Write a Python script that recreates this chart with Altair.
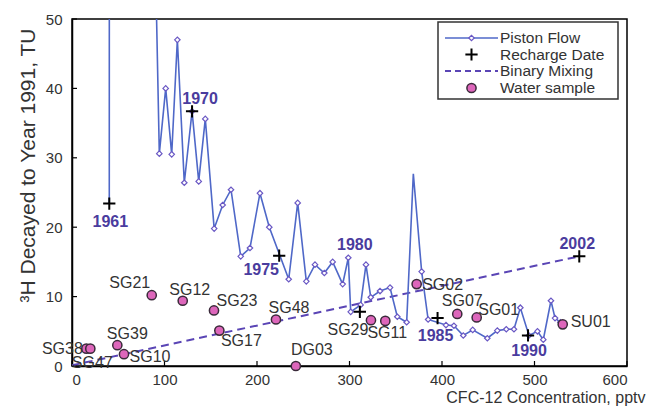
import altair as alt
import pandas as pd

FONT = "Liberation Sans"

# ---------------- data ----------------
piston_x = [40.3, 41, 89, 94.4, 101.3, 107.8, 113.9, 121.4, 129.8, 137.0, 144.1, 153.7,
            162.9, 171.9, 182.4, 192.4, 203.2, 213.3, 234.3, 244.0, 253.3, 262.7, 272.8,
            281.8, 292.6, 298.7, 301.3, 312.0, 317.8, 323.0, 333.0, 343.8, 351.7, 361.8,
            369.0, 378.0, 385.0, 404.3, 412.9, 423.0, 433.2, 449.0, 459.8, 469.5, 477.8,
            484.7, 494.0, 503.2, 509.5, 517.8, 522.2, 528.0]
piston_y = [23.4, 400, 66, 30.6, 40.0, 30.5, 47.0, 26.4, 36.7, 26.6, 35.6, 19.8,
            23.2, 25.4, 15.8, 17.0, 24.9, 20.0, 12.5, 23.5, 12.2, 14.6, 13.4,
            15.0, 11.8, 15.6, 7.8, 8.8, 14.6, 9.9, 10.8, 11.3, 7.1, 6.3,
            27.7, 13.6, 6.7, 5.9, 5.8, 4.4, 5.2, 4.0, 5.1, 5.3, 5.3,
            8.4, 4.4, 5.0, 3.8, 9.4, 6.9, 6.3]

recharge_years = ["1961", "1970", "1975", "1980", "1985", "1990", "2002"]
recharge_x = [40.3, 129.8, 224.0, 311.2, 395.2, 493.0, 548.4]
recharge_y = [23.4, 36.7, 15.9, 7.8, 6.9, 4.4, 15.8]

mixing_x = [0.0, 548.4]
mixing_y = [0.1, 15.8]

sample_names = ["SG38", "SG47", "SG39", "SG10", "SG21", "SG12", "SG23", "SG17",
                "SG48", "DG03", "SG29", "SG11", "SG02", "SG07", "SG01", "SU01"]
sample_x = [15.5, 19.8, 49.0, 56.2, 86.2, 119.7, 153.5, 159.3,
            220.5, 242.0, 323.2, 338.7, 372.6, 416.5, 437.5, 530.5]
sample_y = [2.5, 2.5, 3.0, 1.7, 10.2, 9.4, 8.0, 5.1,
            6.7, 0.0, 6.6, 6.5, 11.8, 7.5, 7.0, 6.0]

x_ticks = [0, 100, 200, 300, 400, 500, 600]
y_ticks = [0, 10, 20, 30, 40, 50]

# label placement (pixel offsets from the marker)
sample_label_offset = {
    "SG38": (-24, 0), "SG47": (2, 14), "SG39": (10, -11), "SG10": (26, 3),
    "SG21": (-22, -12), "SG12": (7, -11), "SG23": (23, -9), "SG17": (22, 10),
    "SG48": (13, -12), "DG03": (16, -16), "SG29": (-23, 10), "SG11": (2, 12),
    "SG02": (26, 1), "SG07": (5, -13), "SG01": (22, -7), "SU01": (28, -2),
}
year_label_offset = {
    "1961": (1, 18), "1970": (8, -12), "1975": (-18, 14), "1980": (-5, -67),
    "1985": (-2, 18), "1990": (1, 16), "2002": (-2, -12),
}

# ---------------- styles ----------------
BLUE = "#4f68c8"
DIAMOND = "#6a58c4"
PURPLE = "#4a3c9e"
DASH = "#5a45b5"
PINK = "#dd66bb"
TXT = "#333333"

piston = pd.DataFrame({"x": piston_x, "y": piston_y})
recharge = pd.DataFrame({"x": recharge_x, "y": recharge_y, "year": recharge_years})
mixing = pd.DataFrame({"x": mixing_x, "y": mixing_y})
samples = pd.DataFrame({"x": sample_x, "y": sample_y, "name": sample_names})
xt = pd.DataFrame({"x": x_ticks})
yt = pd.DataFrame({"y": y_ticks})
dummy = pd.DataFrame({"a": [0]})

W, H = 555, 347

xs = alt.Scale(domain=[0, 600], nice=False, zero=False)
ys = alt.Scale(domain=[0, 50], nice=False, zero=False)

x_axis = alt.Axis(values=x_ticks, title="CFC-12 Concentration, pptv", tickSize=0,
                  labelPadding=6, labelFontSize=15, labelColor=TXT, labelFont=FONT,
                  titleFont=FONT, titleFontSize=16, titleFontWeight="normal",
                  titleColor=TXT, titleAlign="right", titleAnchor="end",
                  titleX=573, titleY=36, titleBaseline="alphabetic",
                  domainColor="black", domainWidth=1.5, grid=False)
y_axis = alt.Axis(values=y_ticks, title="³H Decayed to Year 1991, TU", tickSize=0,
                  labelPadding=10, labelFontSize=15, labelColor=TXT, labelFont=FONT,
                  titleFont=FONT, titleFontSize=21, titleFontWeight="normal",
                  titleColor=TXT, titleAngle=270, titleAlign="center",
                  titleBaseline="middle", titleX=-44, titleY=146,
                  domainColor="black", domainWidth=1.5, grid=False)

X = alt.X("x:Q", scale=xs, axis=x_axis)
Y = alt.Y("y:Q", scale=ys, axis=y_axis)

layers = []

# inward ticks
layers.append(alt.Chart(xt).mark_rule(color="black", strokeWidth=1.2).encode(
    x=X, y=alt.value(H), y2=alt.value(H - 5)))
layers.append(alt.Chart(yt).mark_rule(color="black", strokeWidth=1.2).encode(
    y=Y, x=alt.value(0), x2=alt.value(5)))

# binary mixing
layers.append(alt.Chart(mixing).mark_line(color=DASH, strokeWidth=2, strokeDash=[8, 5]).encode(x=X, y=Y))

# piston flow
layers.append(alt.Chart(piston).mark_line(color=BLUE, strokeWidth=1.6, clip=True).encode(x=X, y=Y))
layers.append(alt.Chart(piston).transform_filter(
    "datum.y <= 50 && !(datum.x > 365 && datum.x < 372) && datum.x > 41"
).mark_point(shape="diamond", size=30, filled=True, fill="white", stroke=DIAMOND,
             strokeWidth=1.2, opacity=1).encode(x=X, y=Y))

# recharge dates
layers.append(alt.Chart(recharge).mark_point(shape="M-1,0L1,0M0,-1L0,1", size=150,
                                             stroke="black", strokeWidth=2, filled=False,
                                             opacity=1).encode(x=X, y=Y))
for yr in recharge_years:
    dx, dy = year_label_offset[yr]
    layers.append(alt.Chart(recharge).transform_filter(alt.datum.year == yr).mark_text(
        dx=dx, dy=dy, font=FONT, fontSize=16, fontWeight="bold", color=PURPLE,
        align="center", baseline="middle").encode(x=X, y=Y, text="year:N"))

# water samples
layers.append(alt.Chart(samples).mark_point(shape="circle", size=85, filled=True, fill=PINK,
                                            stroke="#3a2a3a", strokeWidth=1.5,
                                            opacity=1).encode(x=X, y=Y))
for nm in sample_names:
    dx, dy = sample_label_offset[nm]
    layers.append(alt.Chart(samples).transform_filter(alt.datum.name == nm).mark_text(
        dx=dx, dy=dy, font=FONT, fontSize=16, color=TXT,
        align="center", baseline="middle").encode(x=X, y=Y, text="name:N"))

# legend
layers.append(alt.Chart(dummy).mark_rect(fill="white", stroke="#333333", strokeWidth=1.5).encode(
    x=alt.value(366), x2=alt.value(546), y=alt.value(3), y2=alt.value(80)))
layers.append(alt.Chart(dummy).mark_rule(color=BLUE, strokeWidth=1.6).encode(
    x=alt.value(373), x2=alt.value(426), y=alt.value(19)))
layers.append(alt.Chart(dummy).mark_point(shape="diamond", size=30, filled=True, fill="white",
                                          stroke=DIAMOND, strokeWidth=1.2, opacity=1).encode(
    x=alt.value(399.5), y=alt.value(19)))
layers.append(alt.Chart(dummy).mark_point(shape="M-1,0L1,0M0,-1L0,1", size=150, stroke="black",
                                          strokeWidth=2, filled=False, opacity=1).encode(
    x=alt.value(399.5), y=alt.value(35.5)))
layers.append(alt.Chart(dummy).mark_rule(color=DASH, strokeWidth=2, strokeDash=[6, 4]).encode(
    x=alt.value(373), x2=alt.value(426), y=alt.value(52)))
layers.append(alt.Chart(dummy).mark_point(shape="circle", size=85, filled=True, fill=PINK,
                                          stroke="#3a2a3a", strokeWidth=1.5, opacity=1).encode(
    x=alt.value(399.5), y=alt.value(69)))
for txt, yy in [("Piston Flow", 19), ("Recharge Date", 35.5), ("Binary Mixing", 52), ("Water sample", 69)]:
    layers.append(alt.Chart(dummy).mark_text(align="left", baseline="middle", font=FONT,
                                             fontSize=15.5, color=TXT, text=txt).encode(
        x=alt.value(428), y=alt.value(yy)))

chart = alt.layer(*layers).properties(
    width=W, height=H,
    padding={"left": 64, "top": 11, "right": 20, "bottom": 40},
    autosize=alt.AutoSizeParams(type="none"),
    background="white",
).configure_view(stroke="black", strokeWidth=1.5)

chart.save("out.html", embed_options={"renderer": "svg", "actions": False})
